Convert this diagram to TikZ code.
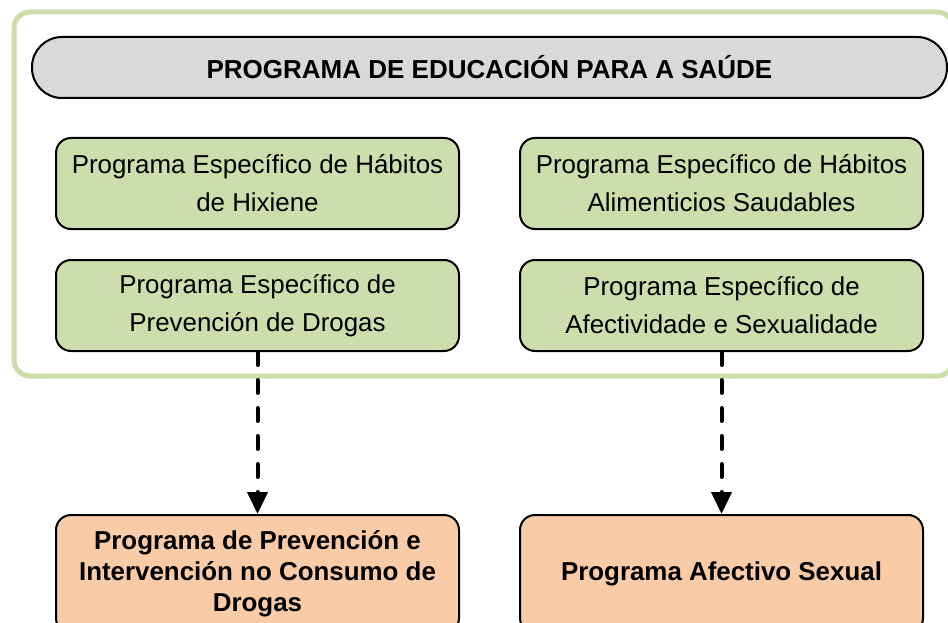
\documentclass[tikz,border=0pt]{standalone}
\usepackage{fontspec}
\setmainfont{Liberation Sans}
\usetikzlibrary{arrows.meta}
\definecolor{framegreen}{HTML}{CCDDAA}
\definecolor{boxgreen}{HTML}{CDDDAC}
\definecolor{boxgrey}{HTML}{D9D9D9}
\definecolor{boxorange}{HTML}{F9CBA6}
\tikzset{
  prog/.style={draw=black,line width=2pt,rounded corners=15pt,fill=boxgreen,
    minimum width=403pt,minimum height=91pt,inner sep=0pt,align=center,
    font=\fontsize{25.9}{38}\selectfont},
  result/.style={prog,fill=boxorange,minimum height=118pt,
    font=\fontsize{25.9}{31}\selectfont\bfseries},
  link/.style={line width=4pt,dash pattern=on 13pt off 15pt,line cap=round,
    -{Triangle[length=22pt,width=20pt,line cap=butt]}}
}
\begin{document}
\begin{tikzpicture}[x=1pt,y=-1pt]
  \useasboundingbox (0,0) rectangle (948,623);
  % outer frame
  \draw[framegreen,line width=5pt,rounded corners=16pt] (14,12) rectangle (953,376);
  \node[draw=black,line width=2pt,fill=boxgrey,rounded corners=30pt,minimum width=915pt,
    minimum height=61pt,inner sep=0pt,font=\fontsize{26}{30}\selectfont\bfseries]
    (eps) at (489.5,67.5) {PROGRAMA DE EDUCACIÓN PARA A SAÚDE};
  \node[prog] (hix) at (257.5,183.5) {Programa Específico de Hábitos\\de Hixiene};
  \node[prog] (ali) at (721.5,183.5) {Programa Específico de Hábitos\\Alimenticios Saudables};
  \node[prog] (dro) at (257.5,305.5) {Programa Específico de\\Prevención de Drogas};
  \node[prog] (afe) at (721.5,305.5) {Programa Específico de\\Afectividade e Sexualidade};
  \node[result] (pic) at (257.5,574) {Programa de Prevención e\\Intervención no Consumo de\\Drogas};
  \node[result] (pas) at (721.5,574) {Programa Afectivo Sexual};
  \draw[link] (dro.south) -- (pic.north);
  \draw[link] (afe.south) -- (pas.north);
\end{tikzpicture}
\end{document}
